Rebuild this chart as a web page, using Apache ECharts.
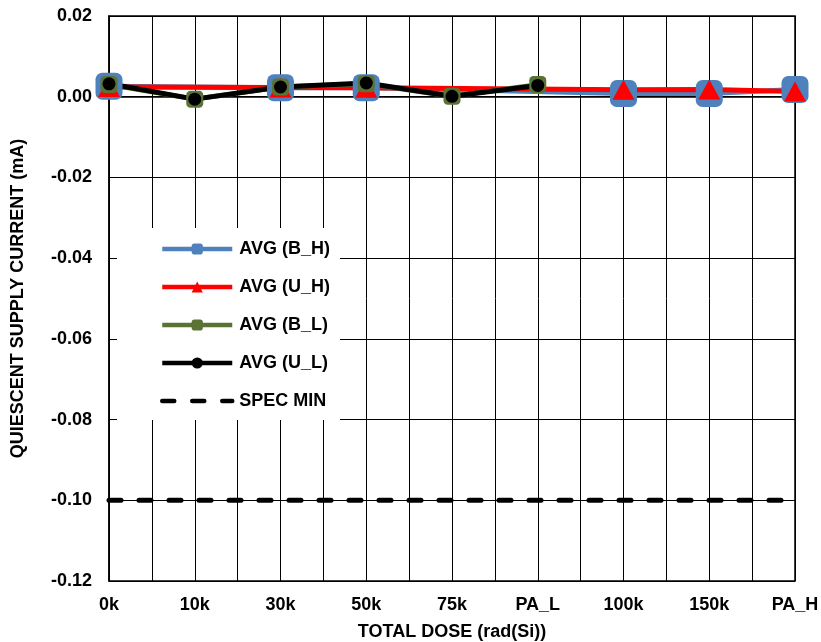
<!DOCTYPE html>
<html>
<head>
<meta charset="utf-8">
<script src="https://cdn.jsdelivr.net/npm/echarts@6/dist/echarts.min.js"></script>
<style>html,body{margin:0;padding:0;background:#fff}#c{width:821px;height:642px}</style>
</head>
<body>
<div id="c"></div>
<script>
const categories = ['0k', '10k', '30k', '50k', '75k', 'PA_L', '100k', '150k', 'PA_H'];
const avgBH = [0.0026, null, 0.0022, 0.0022, null, null, 0.0008, 0.0008, 0.0018];
const avgUH = [0.0024, null, 0.0023, 0.0022, null, null, 0.0017, 0.0018, 0.0013];
const avgBL = [0.0030, -0.0006, 0.0024, 0.0032, 0.0001, 0.0030, null, null, null];
const avgUL = [0.0032, -0.0006, 0.0024, 0.0034, 0.0001, 0.0028, null, null, null];
const specMin = [-0.10, -0.10, -0.10, -0.10, -0.10, -0.10, -0.10, -0.10, -0.10];
const yTicks = { min: -0.12, max: 0.02, step: 0.02 };

const FONT = '"Liberation Sans", Arial, sans-serif';
function pairs(arr) {
  const out = [];
  arr.forEach((v, i) => { if (v !== null) out.push([i, v]); });
  return out;
}
const chart = echarts.init(document.getElementById('c'), null, { renderer: 'canvas' });
const option = {
  animation: false,
  backgroundColor: '#fff',
  grid: { left: 109, top: 16, right: 26, bottom: 61, containLabel: false, outerBoundsMode: 'none',
    show: true, borderColor: '#000', borderWidth: 1.5, backgroundColor: 'transparent' },
  xAxis: {
    type: 'value', min: 0, max: categories.length - 1, interval: 0.5,
    name: 'TOTAL DOSE (rad(Si))', nameLocation: 'middle', nameGap: 42,
    nameTextStyle: { fontFamily: FONT, fontWeight: 'bold', fontSize: 18, color: '#000' },
    axisLine: { show: true, lineStyle: { color: '#000', width: 1.5 } },
    axisTick: { show: false },
    axisLabel: {
      fontFamily: FONT, fontWeight: 'bold', fontSize: 18, color: '#000', margin: 15,
      showMinLabel: true, showMaxLabel: true, hideOverlap: false,
      formatter: v => (Math.abs(v - Math.round(v)) < 1e-9 ? categories[Math.round(v)] : '')
    },
    splitLine: { show: true, lineStyle: { color: '#000', width: 1 } }
  },
  yAxis: {
    type: 'value', min: yTicks.min, max: yTicks.max, interval: yTicks.step,
    name: 'QUIESCENT SUPPLY CURRENT (mA)', nameLocation: 'middle', nameGap: 82, nameRotate: 90,
    nameTextStyle: { fontFamily: FONT, fontWeight: 'bold', fontSize: 18, color: '#000' },
    axisLine: { show: true, lineStyle: { color: '#000', width: 1.5 } },
    axisTick: { show: false },
    axisLabel: {
      fontFamily: FONT, fontWeight: 'bold', fontSize: 18, color: '#000', margin: 17,
      formatter: v => (Math.abs(v) < 1e-9 ? '0.00' : v.toFixed(2))
    },
    splitLine: { show: true, lineStyle: { color: '#000', width: 1 } }
  },
  legend: {
    left: 117, top: 228, width: 249, height: 192,
    orient: 'vertical', backgroundColor: '#fff',
    padding: [12, 10, 10, 43], itemGap: 20,
    itemWidth: 70, itemHeight: 14,
    lineStyle: { width: 4.5 },
    textStyle: { fontFamily: FONT, fontWeight: 'bold', fontSize: 18, color: '#000', padding: [0, 0, 0, 2] },
    data: ['AVG (B_H)', 'AVG (U_H)', 'AVG (B_L)', 'AVG (U_L)', { name: 'SPEC MIN', itemStyle: { opacity: 0 } }]
  },
  series: [
    { name: 'AVG (B_H)', type: 'line', data: pairs(avgBH), symbol: 'roundRect', symbolSize: 27,
      lineStyle: { color: '#4F81BD', width: 5 }, itemStyle: { color: '#4F81BD' } },
    { name: 'AVG (U_H)', type: 'line', data: pairs(avgUH), symbol: 'triangle', symbolSize: [22, 20],
      lineStyle: { color: '#FF0000', width: 5 }, itemStyle: { color: '#FF0000' } },
    { name: 'AVG (B_L)', type: 'line', data: pairs(avgBL), symbol: 'roundRect', symbolSize: 17,
      lineStyle: { color: '#5B7235', width: 5 }, itemStyle: { color: '#5B7235' } },
    { name: 'AVG (U_L)', type: 'line', data: pairs(avgUL), symbol: 'circle', symbolSize: 13,
      lineStyle: { color: '#000', width: 5 }, itemStyle: { color: '#000' } },
    { name: 'SPEC MIN', type: 'line', data: pairs(specMin), symbol: 'circle', symbolSize: 0, showSymbol: false,
      lineStyle: { color: '#000', width: 5, type: [12, 18], cap: 'round' }, itemStyle: { color: '#000' } }
  ]
};
chart.setOption(option);
</script>
</body>
</html>
